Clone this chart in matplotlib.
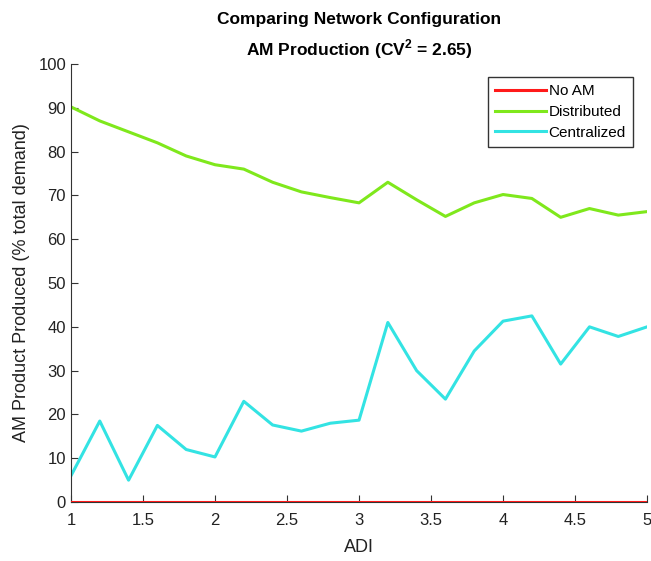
import matplotlib
matplotlib.use("Agg")
import matplotlib.pyplot as plt

plt.rcParams['font.family'] = ['Liberation Sans', 'DejaVu Sans']
plt.rcParams['mathtext.fontset'] = 'custom'
plt.rcParams['mathtext.rm'] = 'Liberation Sans'
plt.rcParams['mathtext.bf'] = 'Liberation Sans:bold'

# data
adi = [1.0, 1.2, 1.4, 1.6, 1.8, 2.0, 2.2, 2.4, 2.6, 2.8, 3.0,
       3.2, 3.4, 3.6, 3.8, 4.0, 4.2, 4.4, 4.6, 4.8, 5.0]
no_am = [0] * len(adi)
distributed = [90.2, 87.0, 84.5, 82.0, 79.0, 77.0, 76.0, 73.0, 70.8, 69.5, 68.3,
               73.0, 69.0, 65.2, 68.3, 70.2, 69.3, 65.0, 67.0, 65.5, 66.3]
centralized = [6.0, 18.5, 5.0, 17.5, 12.0, 10.3, 23.0, 17.6, 16.2, 18.0, 18.7,
               41.0, 30.0, 23.5, 34.5, 41.3, 42.5, 31.5, 40.0, 37.8, 40.0]
x_ticks = [1, 1.5, 2, 2.5, 3, 3.5, 4, 4.5, 5]
x_tick_labels = ['1', '1.5', '2', '2.5', '3', '3.5', '4', '4.5', '5']

fig = plt.figure(figsize=(6.51, 5.61), dpi=100)
ax = fig.add_axes([0.109, 0.105, 0.885, 0.781])

ax.plot(adi, no_am, color='#ff1a1a', lw=2.2, label='No AM', zorder=4)
ax.plot(adi, distributed, color='#7fe81c', lw=2.2, label='Distributed')
ax.plot(adi, centralized, color='#33e3e3', lw=2.2, label='Centralized')

ax.set_xlim(1, 5)
ax.set_ylim(0, 100)
ax.set_xticks(x_ticks)
ax.set_xticklabels(x_tick_labels)
ax.set_yticks(range(0, 101, 10))
ax.spines['top'].set_visible(False)
ax.spines['right'].set_visible(False)
for s in ('left', 'bottom'):
    ax.spines[s].set_color('#333333')
ax.tick_params(direction='in', length=5, labelsize=12, colors='#333333', labelcolor='#222222')
ax.tick_params(axis='x', pad=8)

ax.set_xlabel('ADI', fontsize=13, color='#222222', labelpad=8)
ax.set_ylabel('AM Product Produced (% total demand)', fontsize=13, color='#222222', labelpad=6)
ax.set_title('Comparing Network Configuration\nAM Production (CV$^{\\mathbf{2}}$ = 2.65)',
             fontsize=12.5, fontweight='bold', linespacing=1.6, pad=6)

# legend box in the upper right, square corners
leg = ax.legend(loc='upper right', bbox_to_anchor=(0.975, 0.97), fontsize=11,
                fancybox=False, framealpha=1, edgecolor='#333333',
                handlelength=3.3, handletextpad=0.2, borderpad=0.45, labelspacing=0.45,
                borderaxespad=0)
leg.get_frame().set_linewidth(1.0)

fig.savefig('out.png', dpi=100)
